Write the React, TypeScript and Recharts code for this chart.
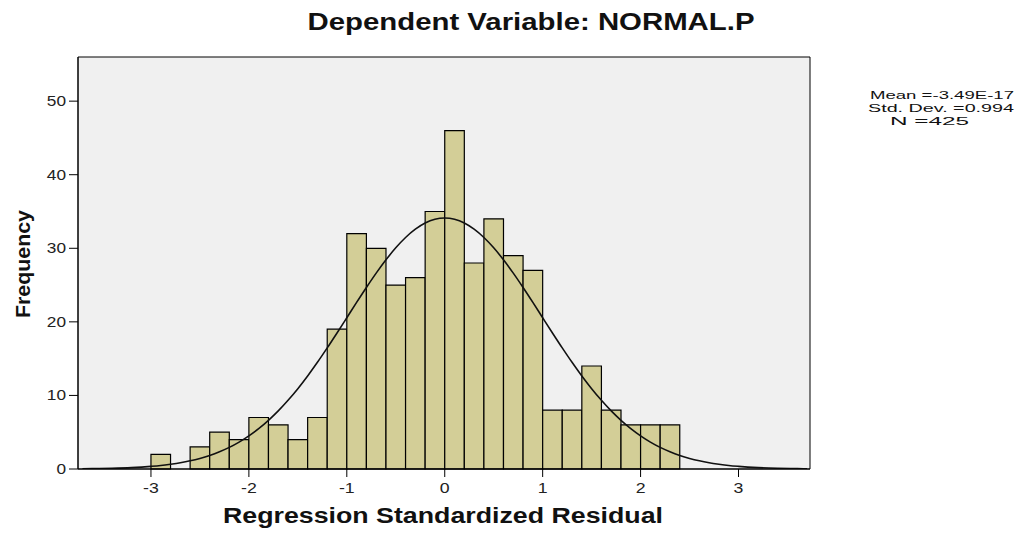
import React from 'react';
import { ComposedChart, XAxis, YAxis, CartesianGrid, Line, ReferenceArea } from 'recharts';

// histogram bins (left edge, width 0.2)
const binStart = [
  -3.0, -2.8, -2.6, -2.4, -2.2, -2.0, -1.8, -1.6, -1.4, -1.2, -1.0, -0.8, -0.6,
  -0.4, -0.2, 0.0, 0.2, 0.4, 0.6, 0.8, 1.0, 1.2, 1.4, 1.6, 1.8, 2.0, 2.2,
];
const binCount = [
  2, 0, 3, 5, 4, 7, 6, 4, 7, 19, 32, 30, 25,
  26, 35, 46, 28, 34, 29, 27, 8, 8, 14, 8, 6, 6, 6,
];
const binWidth = 0.2;

// normal curve
const curveX = [
  -3.7, -3.6, -3.4, -3.2, -3.0, -2.9, -2.8, -2.7, -2.6, -2.5, -2.4, -2.3, -2.2, -2.1, -2.0,
  -1.9, -1.8, -1.7, -1.6, -1.5, -1.4, -1.3, -1.2, -1.1, -1.0, -0.9, -0.8, -0.7, -0.6, -0.5,
  -0.4, -0.3, -0.2, -0.1, 0.0, 0.1, 0.2, 0.3, 0.4, 0.5, 0.6, 0.7, 0.8, 0.9, 1.0,
  1.1, 1.2, 1.3, 1.4, 1.5, 1.6, 1.7, 1.8, 1.9, 2.0, 2.1, 2.2, 2.3, 2.4, 2.5,
  2.6, 2.7, 2.8, 2.9, 3.0, 3.2, 3.4, 3.6, 3.7,
];
const curveY = [
  0.03, 0.05, 0.1, 0.19, 0.36, 0.48, 0.65, 0.85, 1.11, 1.44, 1.85, 2.35, 2.94, 3.66, 4.51,
  5.49, 6.62, 7.9, 9.34, 10.92, 12.65, 14.5, 16.46, 18.49, 20.56, 22.64, 24.67, 26.62, 28.43, 30.06,
  31.46, 32.59, 33.43, 33.94, 34.11, 33.94, 33.43, 32.59, 31.46, 30.06, 28.43, 26.62, 24.67, 22.64, 20.56,
  18.49, 16.46, 14.5, 12.65, 10.92, 9.34, 7.9, 6.62, 5.49, 4.51, 3.66, 2.94, 2.35, 1.85, 1.44,
  1.11, 0.85, 0.65, 0.48, 0.36, 0.19, 0.1, 0.05, 0.03,
];

const xTicks = [-3, -2, -1, 0, 1, 2, 3];
const yTicks = [0, 10, 20, 30, 40, 50];
const xDomain: [number, number] = [-3.745, 3.73];
const yDomain: [number, number] = [0, 56];

const statLines = ['Mean =-3.49E-17', 'Std. Dev. =0.994', 'N =425'];

const curveData = curveX.map((x, i) => ({ x, y: curveY[i] }));

const FONT = '"Liberation Sans", Arial, sans-serif';

const XTick = (props: any) => {
  const { x, y, payload } = props;
  return (
    <g transform={`translate(${x},${y}) scale(1.18,1)`}>
      <text x={0} y={0} dy={14} textAnchor="middle" fontSize={15} fill="#222" fontFamily={FONT}>
        {payload.value}
      </text>
    </g>
  );
};

const YTick = (props: any) => {
  const { x, y, payload } = props;
  return (
    <g transform={`translate(${x},${y}) scale(1.15,1)`}>
      <text x={0} y={0} dy={5} textAnchor="end" fontSize={15} fill="#222" fontFamily={FONT}>
        {payload.value}
      </text>
    </g>
  );
};

export default function App() {
  return (
    <div style={{ position: 'absolute', left: 0, top: 0, width: 1020, height: 539, background: '#fff' }}>
      <ComposedChart
        width={1020}
        height={539}
        data={curveData}
        margin={{ top: 57, right: 210, left: 0, bottom: 0 }}
      >
        <CartesianGrid horizontal={false} vertical={false} fill="#F0F0F0" />
        <XAxis
          dataKey="x"
          type="number"
          domain={xDomain}
          ticks={xTicks}
          allowDataOverflow
          height={70}
          tickSize={8}
          tickMargin={2}
          stroke="#000"
          tick={<XTick />}
        />
        <YAxis
          type="number"
          domain={yDomain}
          ticks={yTicks}
          allowDataOverflow
          width={78}
          tickSize={9}
          tickMargin={3}
          stroke="#000"
          tick={<YTick />}
        />
        {binStart.map((b, i) =>
          binCount[i] > 0 ? (
            <ReferenceArea
              key={i}
              x1={b}
              x2={b + binWidth}
              y1={0}
              y2={binCount[i]}
              fill="#D3CE97"
              fillOpacity={1}
              stroke="#000"
              strokeWidth={1.2}
              ifOverflow="visible"
            />
          ) : null
        )}
        <ReferenceArea
          x1={xDomain[0]}
          x2={xDomain[1]}
          y1={yDomain[0]}
          y2={yDomain[1]}
          fill="none"
          stroke="#000"
          strokeWidth={1}
          ifOverflow="visible"
        />
        <Line
          type="monotone"
          dataKey="y"
          stroke="#111"
          strokeWidth={1.6}
          dot={false}
          activeDot={false}
          isAnimationActive={false}
        />
      </ComposedChart>
      <svg
        width={1020}
        height={539}
        style={{ position: 'absolute', left: 0, top: 0, pointerEvents: 'none' }}
      >
        <text
          x={531}
          y={30}
          textAnchor="middle"
          fontSize={23}
          fontWeight="bold"
          fontFamily={FONT}
          fill="#111"
          textLength={447}
          lengthAdjust="spacingAndGlyphs"
        >
          Dependent Variable: NORMAL.P
        </text>
        <text
          x={443}
          y={523}
          textAnchor="middle"
          fontSize={22}
          fontWeight="bold"
          fontFamily={FONT}
          fill="#111"
          textLength={440}
          lengthAdjust="spacingAndGlyphs"
        >
          Regression Standardized Residual
        </text>
        <text
          x={30}
          y={264}
          transform="rotate(-90 30 264)"
          textAnchor="middle"
          fontSize={21}
          fontWeight="bold"
          fontFamily={FONT}
          fill="#111"
          textLength={108}
          lengthAdjust="spacingAndGlyphs"
        >
          Frequency
        </text>
        <text x={870} y={99} fontSize={11} fontFamily={FONT} fill="#111" textLength={144} lengthAdjust="spacingAndGlyphs">
          {statLines[0]}
        </text>
        <text x={868} y={112} fontSize={11} fontFamily={FONT} fill="#111" textLength={146} lengthAdjust="spacingAndGlyphs">
          {statLines[1]}
        </text>
        <text x={890} y={125} fontSize={11} fontFamily={FONT} fill="#111" textLength={79} lengthAdjust="spacingAndGlyphs">
          {statLines[2]}
        </text>
      </svg>
    </div>
  );
}
